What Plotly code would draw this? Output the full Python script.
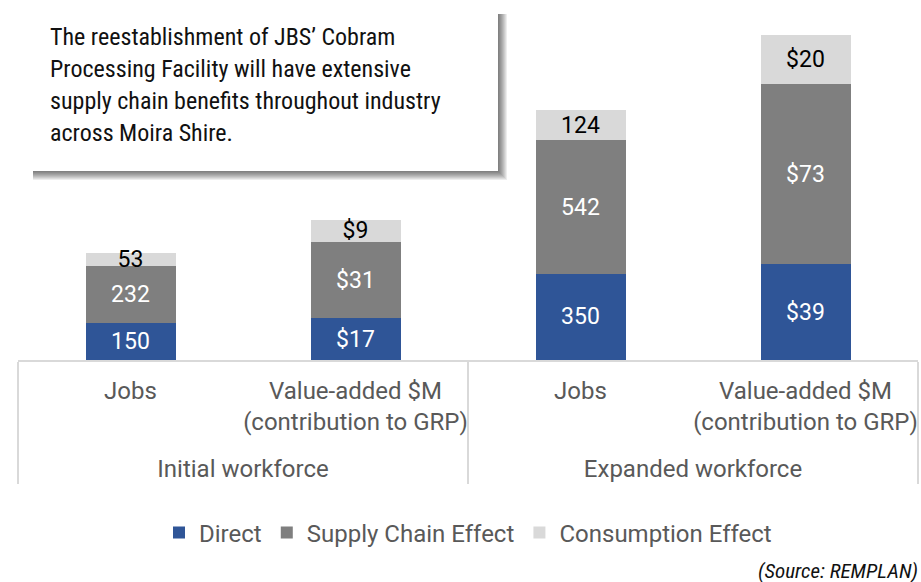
import plotly.graph_objects as go

# ---- data ----
groups = ["Initial workforce", "Initial workforce", "Expanded workforce", "Expanded workforce"]
pad = "<br><span style='font-size:1px'> </span>"
measures = ["Jobs", "Value-added $M<br>(contribution to GRP)" + pad,
            "Jobs", "Value-added $M<br>(contribution to GRP)" + pad]
series_names = ["Direct", "Supply Chain Effect", "Consumption Effect"]
jobs_direct = [150, None, 350, None]
jobs_supply = [232, None, 542, None]
jobs_consumption = [53, None, 124, None]
va_direct = [None, 17, None, 39]
va_supply = [None, 31, None, 73]
va_consumption = [None, 9, None, 20]
box_lines = [
    "The reestablishment of JBS’ Cobram",
    "Processing Facility will have extensive",
    "supply chain benefits throughout industry",
    "across Moira Shire.",
]
source_text = "(Source: REMPLAN)"

colors = ["#2F5597", "#7F7F7F", "#D9D9D9"]
text_colors = ["white", "white", "black"]

W, H = 921, 582
L, R, T, B = 18, 3, 30, 222
PW, PH = W - L - R, H - T - B
JOBS_MAX = 1341
COND = "Roboto Condensed, Liberation Sans Narrow, Roboto"


def px_x(px):
    return (px - L) / PW


def px_y(py):
    return (H - B - py) / PH


x = [groups, measures]
fig = go.Figure()
jobs_series = [jobs_direct, jobs_supply, jobs_consumption]
va_series = [va_direct, va_supply, va_consumption]
for i, name in enumerate(series_names):
    fig.add_trace(go.Bar(
        x=x, y=jobs_series[i], name=name, legendgroup=name,
        marker=dict(color=colors[i], line=dict(width=0)),
        texttemplate="%{y}", textposition="inside", insidetextanchor="middle",
        textangle=0, constraintext="none",
        textfont=dict(color=text_colors[i], size=23, family="Roboto"),
        yaxis="y",
    ))
    fig.add_trace(go.Bar(
        x=x, y=va_series[i], name=name, legendgroup=name, showlegend=False,
        marker=dict(color=colors[i], line=dict(width=0)),
        texttemplate="$%{y}", textposition="inside", insidetextanchor="middle",
        textangle=0, constraintext="none",
        textfont=dict(color=text_colors[i], size=23, family="Roboto"),
        yaxis="y2",
    ))

BX0, BX1, BY0, BY1 = 29, 498, 10, 171
shapes = []
# soft shadow for the text box
for k in range(1, 10):
    shapes.append(dict(type="rect", xref="paper", yref="paper",
                       x0=px_x(BX0 + 4), x1=px_x(BX1 + k),
                       y0=px_y(BY1 + k), y1=px_y(BY0 + 4),
                       fillcolor="rgba(0,0,0,0.07)", line=dict(width=0), layer="above"))
shapes.append(dict(type="rect", xref="paper", yref="paper",
                   x0=px_x(BX0), x1=px_x(BX1), y0=px_y(BY1), y1=px_y(BY0),
                   fillcolor="white", line=dict(width=0), layer="above"))

annotations = []
for k, line in enumerate(box_lines):
    annotations.append(dict(
        text=line, xref="paper", yref="paper", x=px_x(48), y=px_y(37 + 32 * k),
        xanchor="left", yanchor="middle", showarrow=False, align="left",
        font=dict(family=COND, size=24, color="#111111"),
    ))
annotations.append(dict(
    text=source_text, xref="paper", yref="paper", x=px_x(920), y=px_y(571),
    xanchor="right", yanchor="middle", showarrow=False,
    font=dict(family=COND, size=21, color="#111111", style="italic"),
))

fig.update_layout(
    width=W, height=H,
    margin=dict(l=L, r=R, t=T, b=B, autoexpand=False),
    barmode="stack", bargap=0.6,
    plot_bgcolor="white", paper_bgcolor="white",
    font=dict(family="Roboto", size=24, color="#595959"),
    uniformtext=dict(minsize=23, mode="show"),
    xaxis=dict(type="multicategory", showline=True, linecolor="#D9D9D9", linewidth=1.5,
               showdividers=True, dividercolor="#D9D9D9", dividerwidth=1.5,
               ticks="", tickangle=0, ticklabelstandoff=8,
               tickfont=dict(size=24, color="#595959")),
    yaxis=dict(range=[0, JOBS_MAX], visible=False, showgrid=False),
    yaxis2=dict(range=[0, JOBS_MAX / 10], visible=False, showgrid=False, overlaying="y"),
    legend=dict(orientation="h", x=0.5, xanchor="center", y=px_y(533), yanchor="middle",
                font=dict(size=24, color="#595959"), traceorder="normal"),
    shapes=shapes, annotations=annotations,
    showlegend=True,
)

fig.write_html("out.html", config={"displayModeBar": False},
               post_script="document.body.style.margin='0';document.body.style.overflow='hidden';")
